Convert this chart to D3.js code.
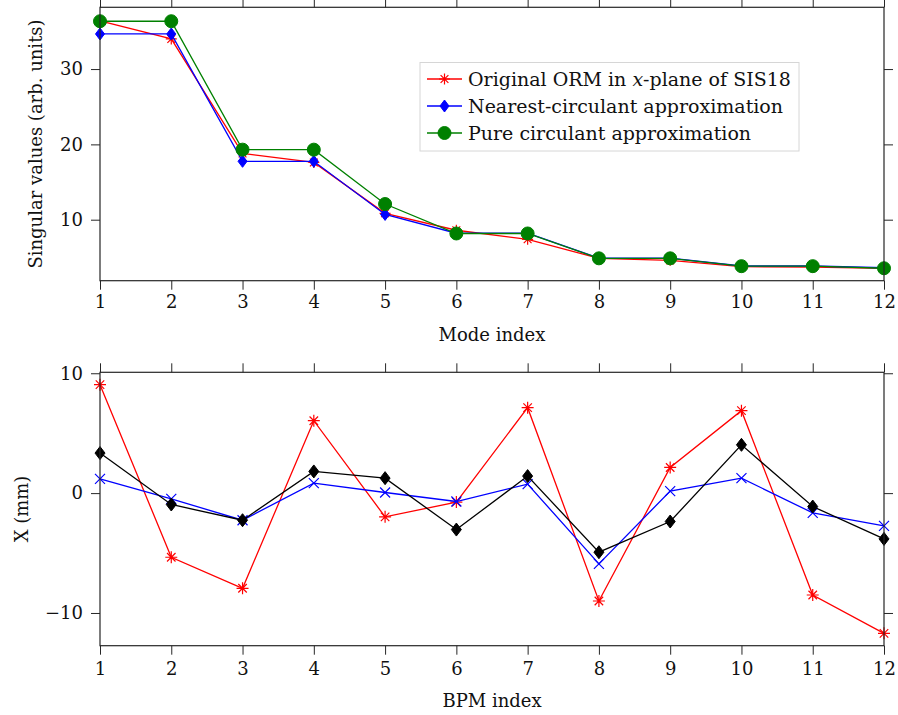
<!DOCTYPE html>
<html>
<head>
<meta charset="utf-8">
<script src="https://cdn.jsdelivr.net/npm/d3@7"></script>
<style>
  html, body { margin: 0; padding: 0; background: #fff; }
  svg { display: block; }
  text { font-family: "DejaVu Serif", serif; fill: #111; }
</style>
</head>
<body>
<svg id="chart" width="898" height="715"></svg>
<script>
// ---- data ----
const modeIndex = [1, 2, 3, 4, 5, 6, 7, 8, 9, 10, 11, 12];
const svOriginal = [36.4, 34.0, 18.8, 17.6, 10.85, 8.6, 7.4, 4.87, 4.6, 3.76, 3.7, 3.55];
const svNearest  = [34.66, 34.66, 17.75, 17.75, 10.7, 8.2, 8.2, 4.9, 4.9, 3.85, 3.85, 3.62];
const svPure     = [36.35, 36.35, 19.3, 19.3, 12.08, 8.17, 8.17, 4.87, 4.87, 3.83, 3.83, 3.55];
const svTicks = [10, 20, 30];
const seriesNames = [
  "Original ORM in ",   // followed by italic x
  "Nearest-circulant approximation",
  "Pure circulant approximation"
];

const bpmIndex = [1, 2, 3, 4, 5, 6, 7, 8, 9, 10, 11, 12];
const orbitRed   = [9.05, -5.35, -7.94, 6.04, -1.98, -0.75, 7.13, -9.0, 2.14, 6.88, -8.5, -11.7];
const orbitBlue  = [1.19, -0.48, -2.26, 0.84, 0.05, -0.70, 0.75, -5.9, 0.17, 1.25, -1.65, -2.73];
const orbitBlack = [3.34, -0.95, -2.26, 1.81, 1.25, -3.04, 1.42, -4.93, -2.37, 4.03, -1.12, -3.82];
const orbitTicks = [-10, 0, 10];

// ---- layout ----
const svg = d3.select("#chart");
const FONT = '"DejaVu Serif", serif';
const FS = 18;
const LEG_FS = 19;
const axisColor = "#262626";
const tickLen = 9;

const x1 = d3.scaleLinear().domain([1, 12]).range([100, 884]);
const y1 = d3.scaleLinear().domain([1.9, 38.2]).range([280.7, 7.3]);
const x2 = d3.scaleLinear().domain([1, 12]).range([100, 884]);
const y2 = d3.scaleLinear().domain([-12.73, 10.08]).range([645.7, 372.3]);

// ---- marker shapes ----
function asterisk(g, cx, cy, r, color) {
  const d = r * Math.SQRT1_2;
  g.append("path")
    .attr("d", `M${cx - r},${cy}H${cx + r}M${cx},${cy - r}V${cy + r}` +
               `M${cx - d},${cy - d}L${cx + d},${cy + d}M${cx - d},${cy + d}L${cx + d},${cy - d}`)
    .attr("stroke", color).attr("stroke-width", 1.2).attr("fill", "none");
}
function cross(g, cx, cy, r, color) {
  g.append("path")
    .attr("d", `M${cx - r},${cy - r}L${cx + r},${cy + r}M${cx - r},${cy + r}L${cx + r},${cy - r}`)
    .attr("stroke", color).attr("stroke-width", 1.2).attr("fill", "none");
}
function diamond(g, cx, cy, w, h, color) {
  g.append("path")
    .attr("d", `M${cx},${cy - h}L${cx + w},${cy}L${cx},${cy + h}L${cx - w},${cy}Z`)
    .attr("fill", color).attr("stroke", color).attr("stroke-width", 1);
}
function circle(g, cx, cy, r, color) {
  g.append("circle").attr("cx", cx).attr("cy", cy).attr("r", r)
    .attr("fill", color).attr("stroke", color).attr("stroke-width", 1);
}

function drawSeries(g, xs, ys, xScale, yScale, color, marker) {
  const line = d3.line().x((d, i) => xScale(xs[i])).y(d => yScale(d));
  g.append("path").datum(ys).attr("d", line)
    .attr("fill", "none").attr("stroke", color).attr("stroke-width", 1.3);
  ys.forEach((v, i) => marker(g, xScale(xs[i]), yScale(v)));
}

// ---- axes frame (box with outward ticks on all sides) ----
function drawFrame(g, xScale, yScale, xTicks, yTicks, xPad) {
  const [xa, xb] = xScale.range();
  const [yb, ya] = yScale.range();
  const style = sel => {
    sel.select(".domain").remove();
    sel.selectAll("line").attr("stroke", axisColor).attr("stroke-width", 1);
    sel.selectAll("text").style("font-family", FONT)
      .style("font-size", FS + "px").attr("fill", "#111");
  };
  g.append("g").attr("transform", `translate(0,${yb})`)
    .call(d3.axisBottom(xScale).tickValues(xTicks).tickSize(tickLen).tickSizeOuter(0)
      .tickPadding(xPad).tickFormat(d3.format("d")))
    .call(style);
  g.append("g").attr("transform", `translate(0,${ya})`)
    .call(d3.axisTop(xScale).tickValues(xTicks).tickSize(tickLen).tickSizeOuter(0).tickFormat(""))
    .call(style);
  g.append("g").attr("transform", `translate(${xa},0)`)
    .call(d3.axisLeft(yScale).tickValues(yTicks).tickSize(tickLen).tickSizeOuter(0)
      .tickPadding(8).tickFormat(d => d < 0 ? "\u2212" + Math.abs(d) : String(d)))
    .call(style);
  g.append("g").attr("transform", `translate(${xb},0)`)
    .call(d3.axisRight(yScale).tickValues(yTicks).tickSize(tickLen).tickSizeOuter(0).tickFormat(""))
    .call(style);
  g.append("rect").attr("x", xa).attr("y", ya).attr("width", xb - xa).attr("height", yb - ya)
    .attr("fill", "none").attr("stroke", axisColor).attr("stroke-width", 1.2);
}

const RED = "#ff0000", BLUE = "#0000ff", GREEN = "#008000", BLACK = "#000000";

// ---- upper panel: singular values ----
const upper = svg.append("g");
drawSeries(upper, modeIndex, svOriginal, x1, y1, RED, (g, cx, cy) => asterisk(g, cx, cy, 5.5, RED));
drawSeries(upper, modeIndex, svNearest, x1, y1, BLUE, (g, cx, cy) => diamond(g, cx, cy, 4.5, 6, BLUE));
drawSeries(upper, modeIndex, svPure, x1, y1, GREEN, (g, cx, cy) => circle(g, cx, cy, 6.5, GREEN));
drawFrame(upper, x1, y1, modeIndex, svTicks, 6);

upper.append("text").attr("x", (x1.range()[0] + x1.range()[1]) / 2).attr("y", 341)
  .attr("text-anchor", "middle").style("font-size", FS + "px").text("Mode index");
upper.append("text")
  .attr("transform", `translate(42,${(y1.range()[0] + y1.range()[1]) / 2}) rotate(-90)`)
  .attr("text-anchor", "middle").style("font-size", FS + "px").text("Singular values (arb. units)");

// legend
const leg = upper.append("g");
leg.append("rect").attr("x", 420).attr("y", 62.5).attr("width", 379).attr("height", 88.5)
  .attr("fill", "#fff").attr("stroke", "#d6d6d6").attr("stroke-width", 1);
const legRows = [
  { color: RED, mark: (g, cx, cy) => asterisk(g, cx, cy, 5.5, RED) },
  { color: BLUE, mark: (g, cx, cy) => diamond(g, cx, cy, 4.5, 6, BLUE) },
  { color: GREEN, mark: (g, cx, cy) => circle(g, cx, cy, 6.5, GREEN) }
];
legRows.forEach((r, i) => {
  const cy = 79 + i * 27;
  leg.append("line").attr("x1", 427).attr("x2", 462).attr("y1", cy).attr("y2", cy)
    .attr("stroke", r.color).attr("stroke-width", 1.3);
  r.mark(leg, 444.5, cy);
  const t = leg.append("text").attr("x", 468).attr("y", cy + 7).style("font-size", LEG_FS + "px");
  if (i === 0) {
    t.append("tspan").text(seriesNames[0]);
    t.append("tspan").style("font-style", "italic").text("x");
    t.append("tspan").text("-plane of SIS18");
  } else {
    t.text(seriesNames[i]);
  }
});

// ---- lower panel: orbit at BPMs ----
const lower = svg.append("g");
drawSeries(lower, bpmIndex, orbitRed, x2, y2, RED, (g, cx, cy) => asterisk(g, cx, cy, 6, RED));
drawSeries(lower, bpmIndex, orbitBlue, x2, y2, BLUE, (g, cx, cy) => cross(g, cx, cy, 5, BLUE));
drawSeries(lower, bpmIndex, orbitBlack, x2, y2, BLACK, (g, cx, cy) => diamond(g, cx, cy, 5, 6.5, BLACK));
drawFrame(lower, x2, y2, bpmIndex, orbitTicks, 8);

lower.append("text").attr("x", (x2.range()[0] + x2.range()[1]) / 2).attr("y", 707)
  .attr("text-anchor", "middle").style("font-size", FS + "px").text("BPM index");
lower.append("text")
  .attr("transform", `translate(28,${(y2.range()[0] + y2.range()[1]) / 2}) rotate(-90)`)
  .attr("text-anchor", "middle").style("font-size", FS + "px").text("X (mm)");
</script>
</body>
</html>
